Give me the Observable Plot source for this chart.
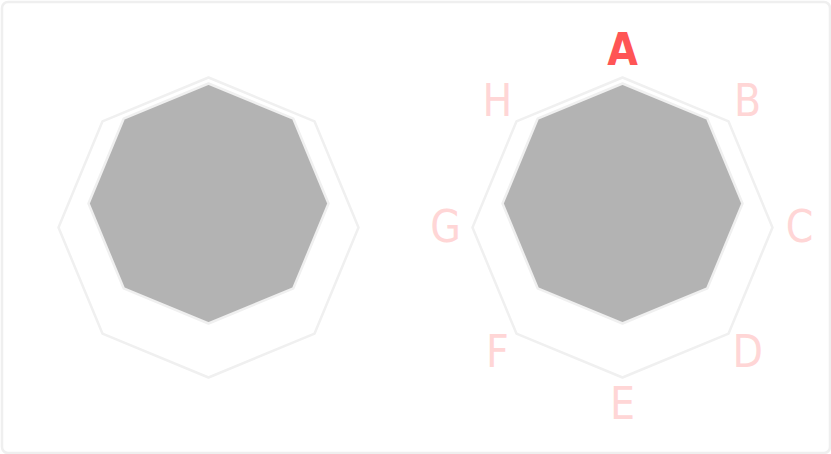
<!DOCTYPE html>
<html>
<head>
<meta charset="utf-8">
<script src="https://cdn.jsdelivr.net/npm/d3@7"></script>
<script src="https://cdn.jsdelivr.net/npm/@observablehq/plot@0.6"></script>
<style>
  html, body { margin: 0; padding: 0; background: #fff; }
  svg { display: block; }
</style>
</head>
<body>
<div id="chart"></div>
<script>
// ---- data ----
const axisLabels = ["A", "B", "C", "D", "E", "F", "G", "H"];
const highlighted = "A";
const panelOffsets = [0, 2.76];      // panel centres along x, in radius units
const panelShowsLabels = [false, true];
const outerRadius = 1;               // reference ring
const innerRadius = 0.8;             // filled octagon size
const innerLift = 0.16;              // filled octagon shifted upward
const labelRadius = 1.18;

// ---- geometry built from the data ----
const n = axisLabels.length;
const angle = i => (i / n) * 2 * Math.PI;   // clockwise from top
const outer = [], inner = [], labels = [];
panelOffsets.forEach((off, p) => {
  axisLabels.forEach((lab, i) => {
    const a = angle(i);
    outer.push({panel: p, x: off + outerRadius * Math.sin(a), y: outerRadius * Math.cos(a)});
    inner.push({panel: p, x: off + innerRadius * Math.sin(a), y: innerLift + innerRadius * Math.cos(a)});
    if (panelShowsLabels[p]) {
      labels.push({label: lab, x: off + labelRadius * Math.sin(a), y: labelRadius * Math.cos(a), hi: lab === highlighted});
    }
  });
});

const W = 831, H = 454, unit = 150, cx0 = 208;
const chart = Plot.plot({
  width: W,
  height: H,
  margin: 0,
  x: {domain: [-cx0 / unit, (W - cx0) / unit], axis: null},
  y: {domain: [-H / 2 / unit, H / 2 / unit], axis: null},
  marks: [
    Plot.frame({stroke: "#efefef", strokeWidth: 2.5, inset: 1.5, rx: 6}),
    Plot.line(outer, {x: "x", y: "y", z: "panel", curve: "linear-closed", stroke: "#f0f0f0", strokeWidth: 2.5}),
    Plot.line(inner, {x: "x", y: "y", z: "panel", curve: "linear-closed", fill: "#b3b3b3", stroke: "#f0f0f0", strokeWidth: 2.5}),
    Plot.text(labels.filter(d => !d.hi), {x: "x", y: "y", text: "label", fill: "#ffd6d6", fontSize: 44, fontFamily: "DejaVu Sans Condensed, DejaVu Sans"}),
    Plot.text(labels.filter(d => d.hi), {x: "x", y: "y", text: "label", fill: "#ff5555", fontSize: 44, fontWeight: "bold", fontFamily: "DejaVu Sans Condensed, DejaVu Sans"})
  ]
});
document.getElementById("chart").append(chart);
</script>
</body>
</html>
